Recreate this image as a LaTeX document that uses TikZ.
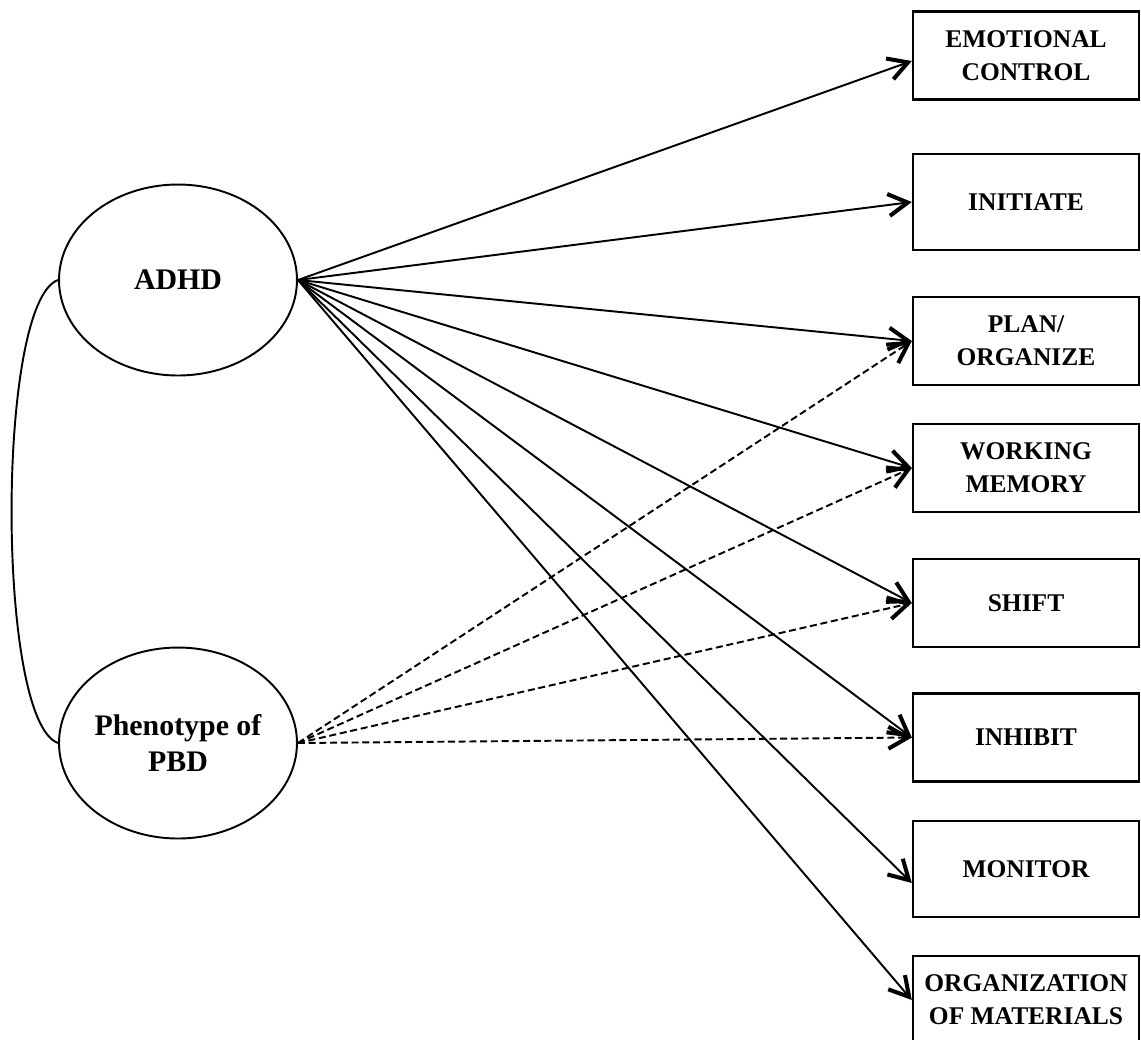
\documentclass[tikz,border=0pt]{standalone}
\usepackage{fontspec}
\setmainfont{Liberation Serif}
\usetikzlibrary{arrows.meta,shapes.geometric}

\newcommand{\boxfont}{\fontsize{14.5}{18.8}\selectfont\bfseries}
\newcommand{\ovalfont}{\fontsize{17}{20.5}\selectfont\bfseries}

\begin{document}
\begin{tikzpicture}[x=0.02cm, y=-0.02cm,
    oval/.style={draw, ellipse, line width=1.1pt, minimum width=4.76cm,
      minimum height=3.82cm, inner sep=0pt, align=center, font=\ovalfont},
    box/.style={draw, line width=1.4pt, minimum width=4.52cm,
      minimum height=1.76cm, align=center, font=\boxfont},
    tall/.style={box, minimum height=1.92cm},
    link/.style={line width=1.1pt,
      -{Straight Barb[length=11pt, width=12.5pt, line width=2.3pt]}},
    dlink/.style={link, dash pattern=on 4pt off 2.1pt}]

  % Page frame
  \useasboundingbox (0,0) rectangle (1141,1039);

  % The two factors
  \node[oval] (adhd) at (178,280) {ADHD};
  \node[oval] (pbd) at (178,743) {Phenotype of\\PBD};

  % The eight scales
  \node[box]  (emo)   at (1026,55.5) {EMOTIONAL\\CONTROL};
  \node[tall] (init)  at (1026,202)  {INITIATE};
  \node[box]  (plan)  at (1026,341)  {PLAN/\\ORGANIZE};
  \node[box]  (wm)    at (1026,468)  {WORKING\\MEMORY};
  \node[box]  (shift) at (1026,603)  {SHIFT};
  \node[box]  (inh)   at (1026,737.5){INHIBIT};
  \node[tall] (mon)   at (1026,869)  {MONITOR};
  \node[box]  (org)   at (1026,1000) {ORGANIZATION\\OF MATERIALS};

  % Correlation between the factors
  \draw[line width=1.1pt] (adhd.west) .. controls +(-62,22) and +(-62,-22) .. (pbd.west);

  % Loadings of ADHD
  \draw[link] (adhd.east) -- ([yshift=-0.11cm]emo.west);
  \foreach \s in {init,plan,wm,shift,inh,org}
    \draw[link] (adhd.east) -- (\s.west);
  \draw[link] (adhd.east) -- ([yshift=-0.28cm]mon.west);

  % Loadings of PBD
  \foreach \s in {plan,wm,shift,inh}
    \draw[dlink] (pbd.east) -- (\s.west);

\end{tikzpicture}
\end{document}
